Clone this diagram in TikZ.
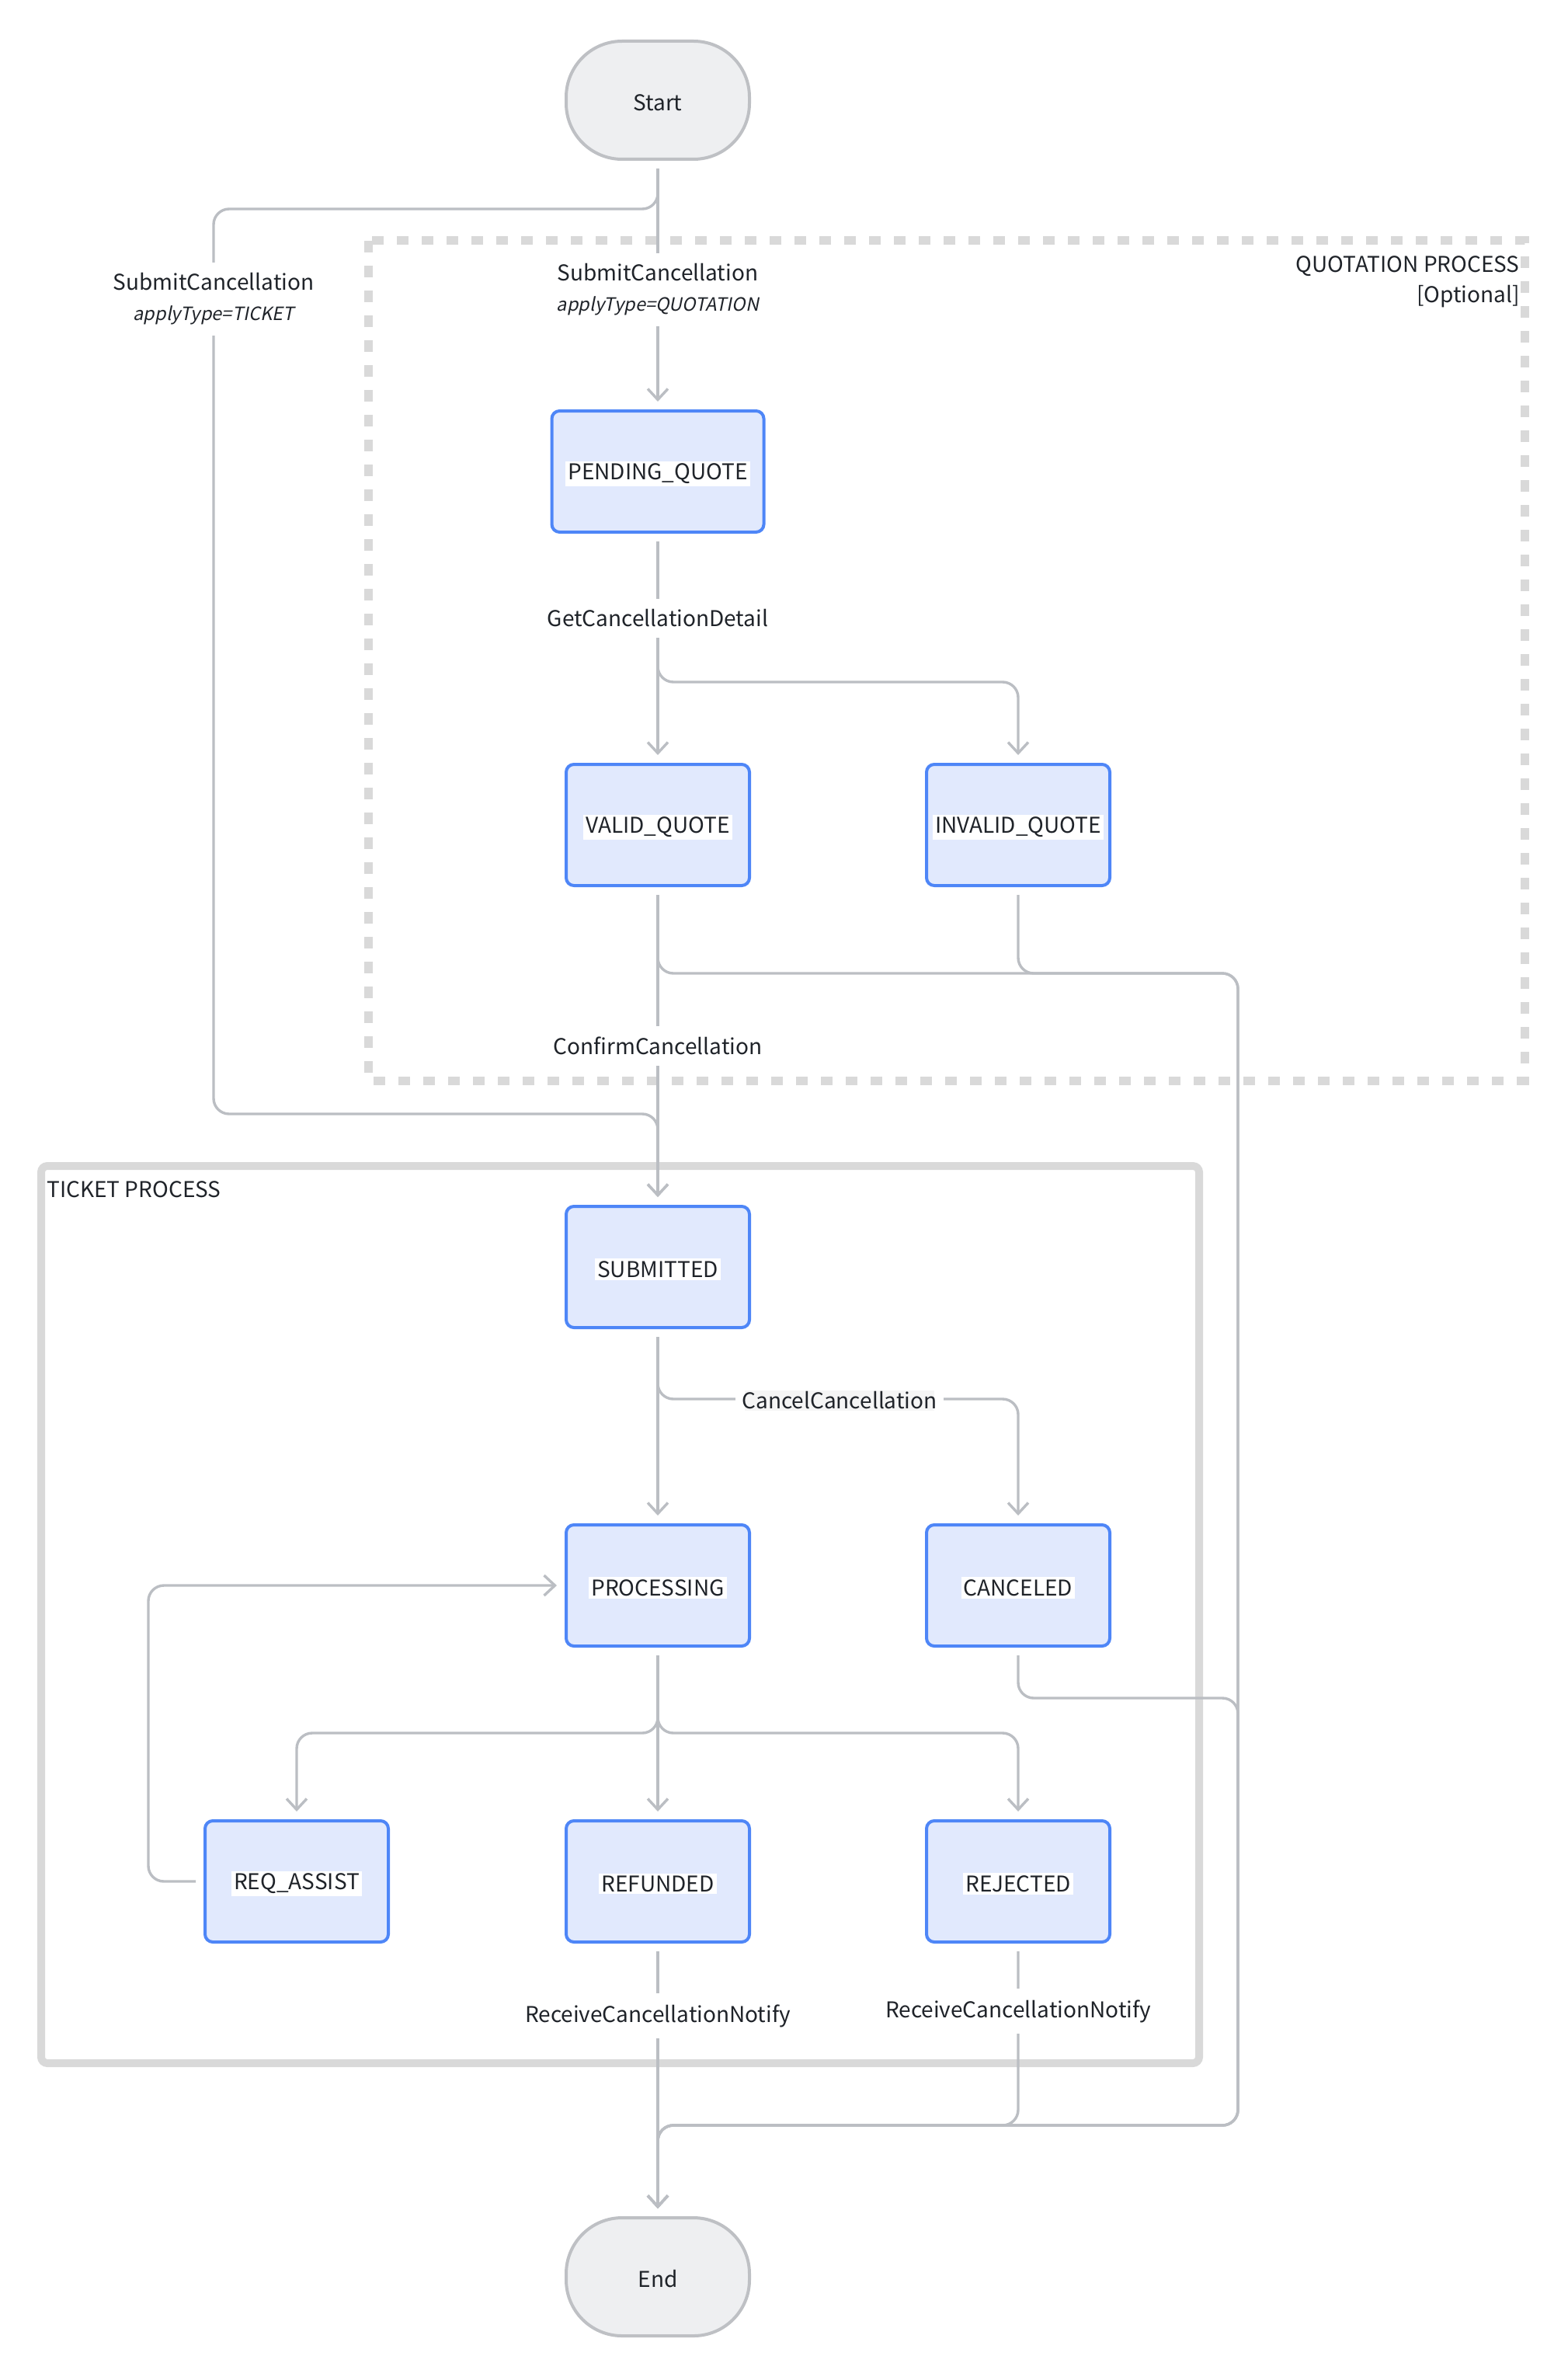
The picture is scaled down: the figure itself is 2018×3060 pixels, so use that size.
\documentclass[tikz,border=0pt]{standalone}
\usepackage{fontspec}
\setmainfont{Noto Sans CJK SC}[AutoFakeSlant=0.2]
\usetikzlibrary{arrows.meta}
\definecolor{edgec}{HTML}{BBBEC3}
\definecolor{boxfill}{HTML}{E1E9FD}
\definecolor{boxdraw}{HTML}{4E86F7}
\definecolor{termfill}{HTML}{EEEFF1}
\definecolor{termdraw}{HTML}{BEC0C4}
\definecolor{framec}{HTML}{D9D9D9}
\definecolor{txt}{HTML}{1F2329}
\definecolor{lblbg}{HTML}{F5F5F5}
\newcommand\hltxt[1]{\raisebox{-1.5pt}[\height][\depth]{{\setlength\fboxsep{1.5pt}\colorbox{white}{#1}}}}
\newcommand\itl[1]{{\fontsize{11.8}{14}\selectfont\itshape #1}}
\begin{document}
\begin{tikzpicture}[x=0.5pt,y=-0.5pt,
  statebox/.style={draw=boxdraw, fill=boxfill, line width=2pt, rounded corners=5pt,
    minimum width=118pt, minimum height=78pt, inner sep=0pt,
    font=\fontsize{14}{17}\selectfont, text=txt},
  termbox/.style={draw=termdraw, fill=termfill, line width=2pt, rounded corners=36pt,
    minimum width=118pt, minimum height=76pt, inner sep=0pt,
    font=\fontsize{14}{17}\selectfont, text=txt},
  flow/.style={draw=edgec, line width=1.7pt, rounded corners=10pt,
    -{Straight Barb[length=7pt,width=13pt]}, shorten >=5pt, shorten <=5pt},
  lbl/.style={fill=white, inner xsep=4pt, inner ysep=7pt, align=center,
    font=\fontsize{14}{19.5}\selectfont, text=txt},
  lblgray/.style={fill=lblbg, draw=white, line width=6pt, inner xsep=1pt, inner ysep=4pt,
    font=\fontsize{14}{17}\selectfont, text=txt},
  grouptitle/.style={inner sep=0pt, font=\fontsize{14}{19.5}\selectfont, text=txt}
]
\useasboundingbox (0,0) rectangle (2018,3060);

% group frames
\draw[framec, line width=5.5pt, dash pattern=on 7.5pt off 8.5pt] (474,310) rectangle (1963,1391);
\draw[framec, line width=5pt, rounded corners=4pt] (53,1501) rectangle (1544,2656);
\node[grouptitle, anchor=east, align=right] (qtitle) at (1957,363) {QUOTATION PROCESS\\{}[Optional]};
\node[grouptitle, anchor=west] (ttitle) at (60,1531) {TICKET PROCESS};

% nodes
\node[termbox] (start) at (847,129) {\raisebox{-1.5pt}[\height][\depth]{Start}};
\node[statebox, minimum width=136.5pt] (pq) at (847,607) {\hltxt{PENDING\_QUOTE}};
\node[statebox] (vq) at (847,1062) {\hltxt{VALID\_QUOTE}};
\node[statebox] (iq) at (1311,1062) {\hltxt{INVALID\_QUOTE}};
\node[statebox] (sub) at (847,1631) {\hltxt{SUBMITTED}};
\node[statebox] (proc) at (847,2041) {\hltxt{PROCESSING}};
\node[statebox] (can) at (1311,2041) {\hltxt{CANCELED}};
\node[statebox] (ra) at (382,2422) {\hltxt{REQ\_ASSIST}};
\node[statebox] (ref) at (847,2422) {\hltxt{REFUNDED}};
\node[statebox] (rej) at (1311,2422) {\hltxt{REJECTED}};
\node[termbox] (end) at (847,2931) {\raisebox{-1.5pt}[\height][\depth]{End}};

% connectors
\draw[flow] (start) -- (pq);
\draw[flow] (start.south) -- (847,269) -- (275,269) -- (275,1434) -- (847,1434) -- (sub.north);
\draw[flow] (pq) -- (vq);
\draw[flow] (pq.south) -- (847,878) -- (1311,878) -- (iq.north);
\draw[flow] (vq) -- (sub);
\draw[flow] (vq.south) -- (847,1253) -- (1594,1253) -- (1594,2736) -- (847,2736) -- (end.north);
\draw[flow] (iq.south) -- (1311,1253) -- (1594,1253) -- (1594,2736) -- (847,2736) -- (end.north);
\draw[flow] (sub) -- (proc);
\draw[flow] (sub.south) -- (847,1801) -- (1311,1801) -- (can.north);
\draw[flow] (proc.south) -- (847,2231) -- (382,2231) -- (ra.north);
\draw[flow] (proc) -- (ref);
\draw[flow] (proc.south) -- (847,2231) -- (1311,2231) -- (rej.north);
\draw[flow] (ra.west) -- (191,2422) -- (191,2041) -- (proc.west);
\draw[flow] (can.south) -- (1311,2186) -- (1594,2186) -- (1594,2736) -- (847,2736) -- (end.north);
\draw[flow] (ref) -- (end);
\draw[flow] (rej.south) -- (1311,2736) -- (847,2736) -- (end.north);

% connector labels
\node[lbl] (l1) at (275,385) {SubmitCancellation\\\itl{applyType=TICKET}};
\node[lbl] (l2) at (847,373) {SubmitCancellation\\\itl{applyType=QUOTATION}};
\node[lbl] (l3) at (847,796) {GetCancellationDetail};
\node[lbl] (l4) at (847,1346) {ConfirmCancellation};
\node[lblgray] (l5) at (1081,1803) {CancelCancellation};
\node[lbl] (l6) at (847,2595) {ReceiveCancellationNotify};
\node[lbl] (l7) at (1311,2589) {ReceiveCancellationNotify};
\end{tikzpicture}
\end{document}
